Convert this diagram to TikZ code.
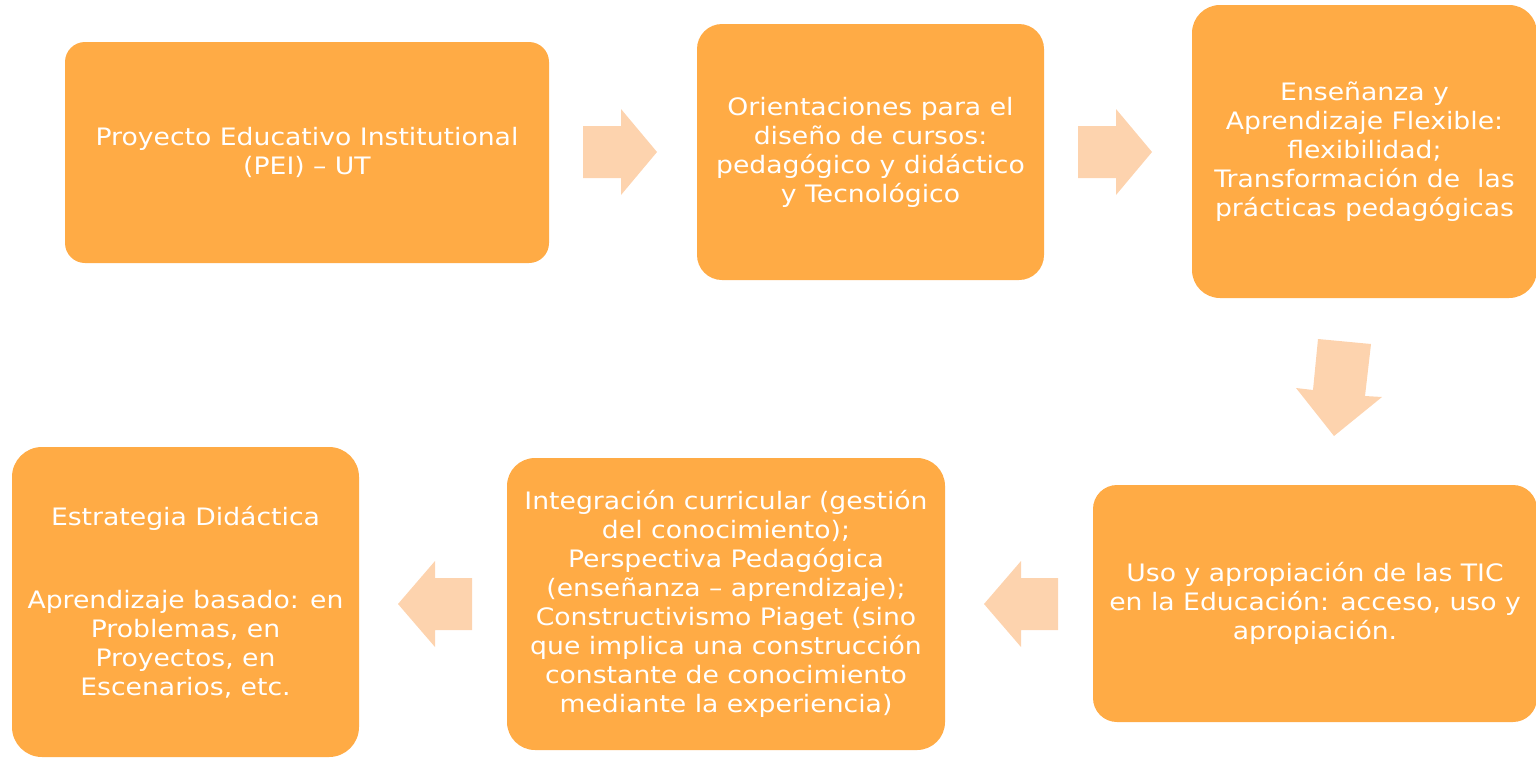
\documentclass[tikz,border=0pt]{standalone}
\usepackage{fontspec}
\setmainfont[FakeStretch=1.11]{DejaVu Sans}
\definecolor{boxc}{HTML}{FFAB45}
\definecolor{arrc}{HTML}{FDD3AE}
\begin{document}
\begin{tikzpicture}[x=1pt,y=-1pt,
  box/.style={fill=boxc, draw=none, inner sep=0pt, text=white, align=center,
    font=\fontsize{24}{29}\selectfont},
  blockarrow/.style={fill=arrc, draw=none}]
\useasboundingbox (0,0) rectangle (1536,758);
% boxes
\node[box, minimum width=484pt, minimum height=221pt, rounded corners=20pt] (b1) at (307,152.5)
  {Proyecto Educativo Institutional\\(PEI) – UT};
\node[box, minimum width=347pt, minimum height=256pt, rounded corners=25pt] (b2) at (870.5,152)
  {Orientaciones para el\\diseño de cursos:\\pedagógico y didáctico\\y Tecnológico};
\node[box, minimum width=345pt, minimum height=293pt, rounded corners=28pt] (b3) at (1364.5,151.5)
  {Enseñanza y\\Aprendizaje Flexible:\\flexibilidad;\\Transformación de\ \ las\\prácticas pedagógicas};
\node[box, minimum width=444pt, minimum height=237pt, rounded corners=24pt] (b4) at (1315,603.5)
  {Uso y apropiación de las TIC\\en la Educación: acceso, uso y\\apropiación.};
\node[box, minimum width=438pt, minimum height=292pt, rounded corners=28pt] (b5) at (726,604)
  {Integración curricular (gestión\\del conocimiento);\\Perspectiva Pedagógica\\(enseñanza – aprendizaje);\\Constructivismo Piaget (sino\\que implica una construcción\\constante de conocimiento\\mediante la experiencia)};
\node[box, minimum width=347pt, minimum height=310pt, rounded corners=30pt] (b6) at (185.5,602)
  {Estrategia Didáctica\\[54pt]Aprendizaje basado: en\\Problemas, en\\Proyectos, en\\Escenarios, etc.};
% block arrows
\fill[blockarrow] (583,126) -- (621,126) -- (621,109) -- (657,152) -- (621,195) -- (621,178) -- (583,178) -- cycle;
\fill[blockarrow] (1078,126) -- (1116,126) -- (1116,109) -- (1152,152) -- (1116,195) -- (1116,178) -- (1078,178) -- cycle;
\fill[blockarrow] (1318,339) -- (1371,344) -- (1365,396) -- (1382,397) -- (1334,436) -- (1296,388) -- (1313,390) -- cycle;
\fill[blockarrow] (1058,578) -- (1021,578) -- (1021,561) -- (984,604) -- (1021,647) -- (1021,630) -- (1058,630) -- cycle;
\fill[blockarrow] (472,578) -- (435,578) -- (435,561) -- (398,604) -- (435,647) -- (435,630) -- (472,630) -- cycle;
\end{tikzpicture}
\end{document}
